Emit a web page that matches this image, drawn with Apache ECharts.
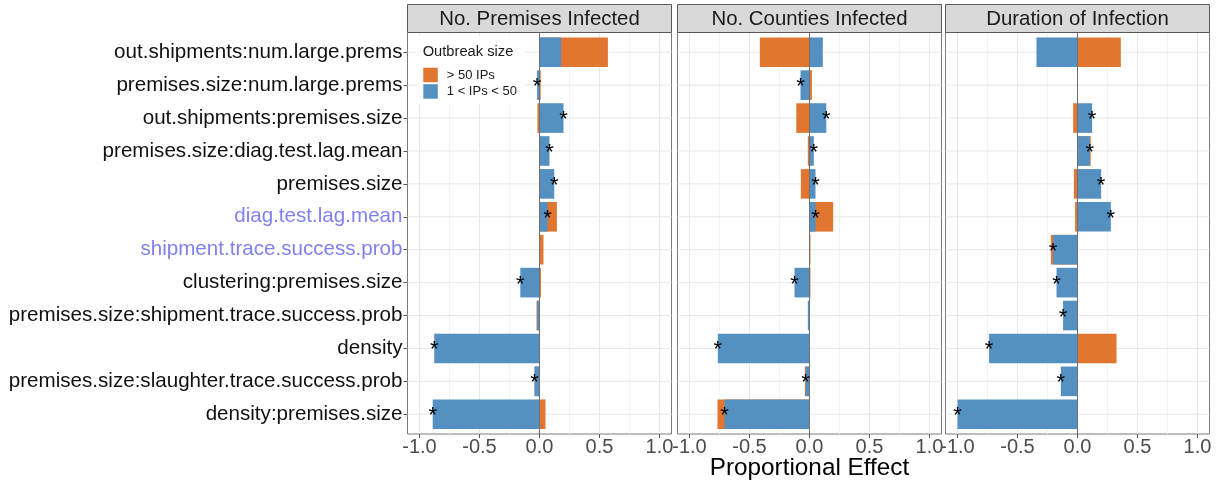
<!DOCTYPE html>
<html>
<head>
<meta charset="utf-8">
<script src="https://cdn.jsdelivr.net/npm/echarts@6/dist/echarts.min.js"></script>
<style>
  html, body { margin: 0; padding: 0; background: #fff; }
  #chart { width: 1221px; height: 484px; }
</style>
</head>
<body>
<div id="chart"></div>
<script>
// Model terms, top to bottom
const terms = [
  'out.shipments:num.large.prems',
  'premises.size:num.large.prems',
  'out.shipments:premises.size',
  'premises.size:diag.test.lag.mean',
  'premises.size',
  'diag.test.lag.mean',
  'shipment.trace.success.prob',
  'clustering:premises.size',
  'premises.size:shipment.trace.success.prob',
  'density',
  'premises.size:slaughter.trace.success.prob',
  'density:premises.size'
];
// Main-effect terms shown in a highlight colour
const highlightedTerms = ['diag.test.lag.mean', 'shipment.trace.success.prob'];

const panelTitles = ['No. Premises Infected', 'No. Counties Infected', 'Duration of Infection'];
const sizeClasses = ['> 50 IPs', '1 < IPs < 50'];

// Proportional effects, one value per term
const premisesLarge = [0.57, 0.01, -0.017, 0.0, 0.0, 0.145, 0.033, 0.012, -0.025, 0.0, -0.04, 0.05];
const premisesSmall = [0.18, -0.02, 0.20, 0.083, 0.123, 0.067, -0.004, -0.16, -0.02, -0.877, -0.042, -0.89];
const premisesSig   = [0, 1, 1, 1, 1, 1, 0, 1, 0, 1, 1, 1];

const countiesLarge = [-0.414, 0.02, -0.11, -0.014, -0.072, 0.197, 0.008, 0.008, 0.0, 0.0, -0.039, -0.767];
const countiesSmall = [0.111, -0.075, 0.14, 0.036, 0.05, 0.05, -0.003, -0.125, -0.014, -0.764, -0.033, -0.708];
const countiesSig   = [0, 1, 1, 1, 1, 1, 0, 1, 0, 1, 1, 1];

const durationLarge = [0.361, 0.0, -0.036, 0.11, -0.03, -0.02, -0.222, 0.0, 0.0, 0.325, 0.0, 0.0];
const durationSmall = [-0.342, 0.0, 0.122, 0.103, 0.197, 0.278, -0.203, -0.175, -0.12, -0.737, -0.139, -1.0];
const durationSig   = [0, 0, 1, 1, 1, 1, 1, 1, 1, 1, 1, 1];

// Axis ticks
const xTicks = [-1, -0.5, 0, 0.5, 1];
const xMinorTicks = [-0.75, -0.25, 0.25, 0.75];

const panels = [
  { title: panelTitles[0], large: premisesLarge, small: premisesSmall, sig: premisesSig },
  { title: panelTitles[1], large: countiesLarge, small: countiesSmall, sig: countiesSig },
  { title: panelTitles[2], large: durationLarge, small: durationSmall, sig: durationSig }
];

const FONT = '"Liberation Sans", Arial, Helvetica, sans-serif';
const COLOR_LARGE = '#e0762f';
const COLOR_SMALL = '#5490c2';
const COLOR_HIGHLIGHT = '#8080ee';
const X_MIN = -1.1, X_MAX = 1.1;
const Y_MIN = -0.6, Y_MAX = terms.length - 0.4;
const BAR_HALF = 0.45;

const PANEL_LEFT = [407.5, 677.5, 945.5];
const PANEL_W = 264, PANEL_TOP = 32.5, PANEL_H = 401.5;
const STRIP_TOP = 4.5, STRIP_H = 28;

const rowIdx = terms.map((t, i) => i);

function vLine(color) {
  return function (params, api) {
    const x = api.value(0);
    const a = api.coord([x, Y_MIN]);
    const b = api.coord([x, Y_MAX]);
    return { type: 'line', shape: { x1: a[0], y1: a[1], x2: b[0], y2: b[1] },
             style: { stroke: color, lineWidth: 1 } };
  };
}
function hLine(color) {
  return function (params, api) {
    const y = api.value(1);
    const a = api.coord([X_MIN, y]);
    const b = api.coord([X_MAX, y]);
    return { type: 'line', shape: { x1: a[0], y1: a[1], x2: b[0], y2: b[1] },
             style: { stroke: color, lineWidth: 1 } };
  };
}
function barItem(params, api) {
  const v = api.value(0), row = api.value(1);
  const a = api.coord([0, row - BAR_HALF]);
  const b = api.coord([v, row + BAR_HALF]);
  return { type: 'rect',
           shape: { x: Math.min(a[0], b[0]), y: Math.min(a[1], b[1]),
                    width: Math.abs(b[0] - a[0]), height: Math.abs(b[1] - a[1]) },
           style: { fill: api.visual('color') } };
}
function starItem(params, api) {
  const p = api.coord([api.value(0), api.value(1)]);
  return { type: 'text', x: p[0], y: p[1] + 2,
           style: { text: '*', fill: '#000', fontSize: 22, fontFamily: FONT,
                    align: 'center', verticalAlign: 'middle' } };
}

const grids = [], xAxes = [], yAxes = [], series = [], graphics = [];

panels.forEach((p, k) => {
  grids.push({ left: PANEL_LEFT[k], top: PANEL_TOP, width: PANEL_W, height: PANEL_H,
               show: true, backgroundColor: '#fff', borderColor: '#7a7a7a', borderWidth: 1 });
  xAxes.push({
    type: 'value', gridIndex: k, min: X_MIN, max: X_MAX, position: 'bottom',
    axisLine: { show: false, onZero: false }, splitLine: { show: false },
    axisTick: { show: true, customValues: xTicks, length: 4, lineStyle: { color: '#555' } },
    axisLabel: { show: true, customValues: xTicks, formatter: v => Number(v).toFixed(1),
                 fontSize: 20, color: '#4d4d4d', fontFamily: FONT, margin: 3 }
  });
  yAxes.push({
    type: 'value', gridIndex: k, min: Y_MIN, max: Y_MAX, inverse: true, position: 'left',
    axisLine: { show: false, onZero: false }, splitLine: { show: false },
    axisTick: { show: k === 0, customValues: rowIdx, length: 4, lineStyle: { color: '#555' } },
    axisLabel: {
      show: k === 0, customValues: rowIdx, margin: 5,
      formatter: v => terms[Math.round(Number(v))],
      color: v => highlightedTerms.includes(terms[Math.round(Number(v))]) ? COLOR_HIGHLIGHT : '#111',
      fontSize: 20.6, fontFamily: FONT
    }
  });

  const common = { type: 'custom', xAxisIndex: k, yAxisIndex: k, silent: true, animation: false };
  series.push(Object.assign({}, common, { name: 'minor-x-' + k, z: 1, renderItem: vLine('#f3f3f3'),
    data: xMinorTicks.map(v => [v, 0]) }));
  series.push(Object.assign({}, common, { name: 'major-x-' + k, z: 1, renderItem: vLine('#e8e8e8'),
    data: xTicks.map(v => [v, 0]) }));
  series.push(Object.assign({}, common, { name: 'major-y-' + k, z: 1, renderItem: hLine('#e8e8e8'),
    data: rowIdx.map(i => [0, i]) }));
  series.push(Object.assign({}, common, { name: sizeClasses[0], z: 2, renderItem: barItem,
    itemStyle: { color: COLOR_LARGE }, data: p.large.map((v, i) => [v, i]) }));
  series.push(Object.assign({}, common, { name: sizeClasses[1], z: 3, renderItem: barItem,
    itemStyle: { color: COLOR_SMALL }, data: p.small.map((v, i) => [v, i]) }));
  series.push(Object.assign({}, common, { name: 'zero-' + k, z: 4, renderItem: vLine('#707070'),
    data: [[0, 0]] }));
  series.push(Object.assign({}, common, { name: 'sig-' + k, z: 5, renderItem: starItem,
    data: p.small.map((v, i) => [v, i]).filter((d, i) => p.sig[i]) }));

  // Facet strip
  graphics.push({ type: 'rect', shape: { x: PANEL_LEFT[k], y: STRIP_TOP, width: PANEL_W, height: STRIP_H },
                  style: { fill: '#d9d9d9', stroke: '#5a5a5a', lineWidth: 1 }, z: 10 });
  graphics.push({ type: 'text', x: PANEL_LEFT[k] + PANEL_W / 2, y: STRIP_TOP + STRIP_H / 2 + 0.5,
                  style: { text: p.title, fill: '#1a1a1a', fontSize: 20.4, fontFamily: FONT,
                           align: 'center', verticalAlign: 'middle' }, z: 11 });
});

// Shared x-axis title and legend title
graphics.push({ type: 'text', x: PANEL_LEFT[1] + PANEL_W / 2, y: 468,
                style: { text: 'Proportional Effect', fill: '#000', fontSize: 24.3, fontFamily: FONT,
                         align: 'center', verticalAlign: 'middle' }, z: 11 });
graphics.push({ type: 'text', x: 422.7, y: 52,
                style: { text: 'Outbreak size', fill: '#1a1a1a', fontSize: 14.7, fontFamily: FONT,
                         align: 'left', verticalAlign: 'middle' }, z: 100 });

const chart = echarts.init(document.getElementById('chart'));
chart.setOption({
  animation: false,
  backgroundColor: '#fff',
  grid: grids,
  xAxis: xAxes,
  yAxis: yAxes,
  legend: {
    data: sizeClasses,
    orient: 'vertical',
    left: 418, top: 36,
    padding: [31.7, 8, 5, 5.3],
    backgroundColor: '#fff',
    icon: 'rect',
    itemWidth: 14.5, itemHeight: 14.5, itemGap: 2,
    selectedMode: false,
    textStyle: { fontSize: 13, fontFamily: FONT, color: '#1a1a1a', padding: [0, 0, 0, 4] }
  },
  graphic: { elements: graphics },
  series: series
});
</script>
</body>
</html>
